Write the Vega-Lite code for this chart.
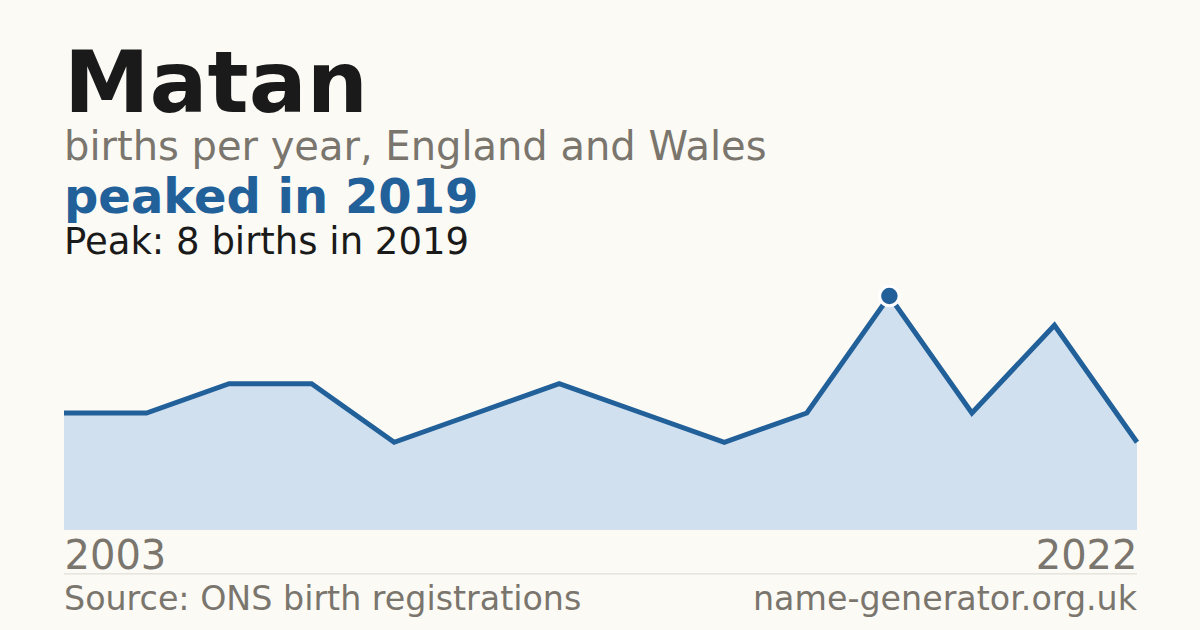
{
  "$schema": "https://vega.github.io/schema/vega-lite/v6.json",
  "background": "#fbfaf5",
  "autosize": "none",
  "width": 1073,
  "height": 234,
  "padding": {"left": 64, "top": 296, "right": 63, "bottom": 100},
  "title": {
    "text": "Matan",
    "subtitle": "births per year, England and Wales",
    "anchor": "start",
    "frame": "group",
    "font": "DejaVu Sans",
    "fontSize": 86,
    "fontWeight": "bold",
    "color": "#1a1a1a",
    "subtitleFont": "DejaVu Sans",
    "subtitleFontSize": 40,
    "subtitleColor": "#7a756d",
    "subtitlePadding": -2,
    "offset": 6
  },
  "config": {"view": {"stroke": null}, "font": "DejaVu Sans"},
  "datasets": {
    "births": [
      {"year": 2003, "births": 4},
      {"year": 2005, "births": 4},
      {"year": 2007, "births": 5},
      {"year": 2008, "births": 5},
      {"year": 2010, "births": 3},
      {"year": 2011, "births": 4},
      {"year": 2012, "births": 5},
      {"year": 2014, "births": 4},
      {"year": 2016, "births": 3},
      {"year": 2018, "births": 4},
      {"year": 2019, "births": 8},
      {"year": 2020, "births": 4},
      {"year": 2021, "births": 7},
      {"year": 2022, "births": 3}
    ],
    "notes": [
      {"label": "peaked in 2019", "kind": "headline", "year": 2003, "births": 10.84},
      {"label": "Peak: 8 births in 2019", "kind": "peak", "year": 2003, "births": 9.43},
      {"label": "Source: ONS birth registrations", "kind": "source", "year": 2003, "births": -2.74},
      {"label": "name-generator.org.uk", "kind": "site", "year": 2022, "births": -2.74}
    ]
  },
  "layer": [
    {
      "data": {"name": "births"},
      "mark": {"type": "area", "color": "#d0e0ef"},
      "encoding": {
        "x": {
          "field": "year",
          "type": "ordinal",
          "scale": {"type": "point", "padding": 0},
          "axis": {
            "values": [2003, 2022],
            "title": null,
            "domain": false,
            "ticks": false,
            "grid": false,
            "labelAngle": 0,
            "labelFlush": true,
            "labelFont": "DejaVu Sans",
            "labelFontSize": 40,
            "labelColor": "#7a756d",
            "labelBaseline": "alphabetic",
            "labelPadding": 38
          }
        },
        "y": {"field": "births", "type": "quantitative", "scale": {"domain": [0, 8]}, "axis": null}
      }
    },
    {
      "data": {"name": "births"},
      "mark": {"type": "line", "color": "#22609a", "strokeWidth": 5},
      "encoding": {
        "x": {"field": "year", "type": "ordinal"},
        "y": {"field": "births", "type": "quantitative"}
      }
    },
    {
      "data": {"name": "births"},
      "transform": [{"filter": "datum.year == 2019"}],
      "mark": {"type": "circle", "size": 380, "fill": "#22609a", "stroke": "#ffffff", "strokeWidth": 3, "opacity": 1},
      "encoding": {
        "x": {"field": "year", "type": "ordinal"},
        "y": {"field": "births", "type": "quantitative"}
      }
    },
    {
      "data": {"name": "notes"},
      "transform": [{"filter": "datum.kind == 'headline'"}],
      "mark": {"type": "text", "align": "left", "baseline": "alphabetic", "fontSize": 48, "fontWeight": "bold", "color": "#22609a"},
      "encoding": {
        "x": {"field": "year", "type": "ordinal"},
        "y": {"field": "births", "type": "quantitative"},
        "text": {"field": "label"}
      }
    },
    {
      "data": {"name": "notes"},
      "transform": [{"filter": "datum.kind == 'peak'"}],
      "mark": {"type": "text", "align": "left", "baseline": "alphabetic", "fontSize": 37, "color": "#1a1a1a"},
      "encoding": {
        "x": {"field": "year", "type": "ordinal"},
        "y": {"field": "births", "type": "quantitative"},
        "text": {"field": "label"}
      }
    },
    {
      "data": {"values": [{"from": 2003, "to": 2022, "births": -1.5}]},
      "mark": {"type": "rule", "color": "#dcd8d0", "strokeWidth": 1},
      "encoding": {
        "x": {"field": "from", "type": "ordinal"},
        "x2": {"field": "to"},
        "y": {"field": "births", "type": "quantitative"}
      }
    },
    {
      "data": {"name": "notes"},
      "transform": [{"filter": "datum.kind == 'source'"}],
      "mark": {"type": "text", "align": "left", "baseline": "alphabetic", "fontSize": 33.3, "color": "#7a756d"},
      "encoding": {
        "x": {"field": "year", "type": "ordinal"},
        "y": {"field": "births", "type": "quantitative"},
        "text": {"field": "label"}
      }
    },
    {
      "data": {"name": "notes"},
      "transform": [{"filter": "datum.kind == 'site'"}],
      "mark": {"type": "text", "align": "right", "baseline": "alphabetic", "fontSize": 33.3, "color": "#7a756d"},
      "encoding": {
        "x": {"field": "year", "type": "ordinal"},
        "y": {"field": "births", "type": "quantitative"},
        "text": {"field": "label"}
      }
    }
  ]
}
